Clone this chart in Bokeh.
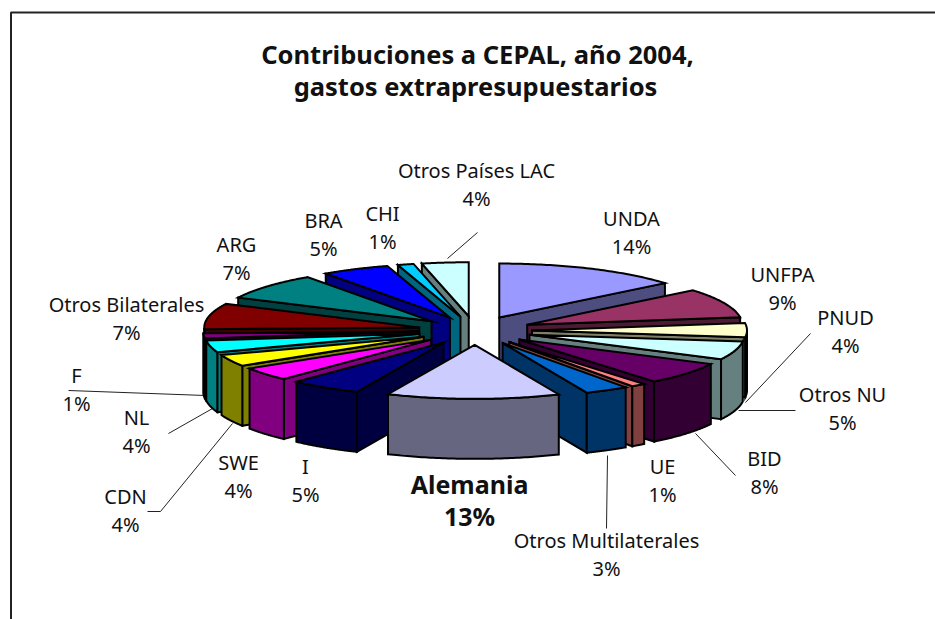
import numpy as np
from bokeh.plotting import figure
from bokeh.models import Range1d
from bokeh.core.properties import value
from bokeh.embed import file_html
from bokeh.resources import INLINE

# ---- data ----
names = ["UNDA","UNFPA","PNUD","Otros NU","BID","UE","Otros Multilaterales","Alemania","I","SWE",
         "CDN","NL","F","Otros Bilaterales","ARG","BRA","CHI","Otros Países LAC"]
pct_labels = ["14%","9%","4%","5%","8%","1%","3%","13%","5%","4%","4%","4%","1%","7%","7%","5%","1%","4%"]
shares = [14.0,8.8,4.2,5.5,6.7,1.1,3.3,13.0,5.4,4.0,3.5,3.5,1.5,7.7,8.0,5.1,1.2,3.5]
top_colors = ["#9999FF","#993366","#FFFFCC","#CCFFFF","#660066","#FF8080","#0066CC","#CCCCFF","#000080",
              "#FF00FF","#FFFF00","#00FFFF","#800080","#800000","#008080","#0000FF","#00CCFF","#CCFFFF"]
side_colors = ["#4D4D80","#4D1A33","#808066","#668080","#330033","#804040","#003366","#666680","#000040",
               "#800080","#808000","#008080","#400040","#400000","#004040","#000080","#006680","#668080"]
title_lines = ["Contribuciones a CEPAL, año 2004,","gastos extrapresupuestarios"]

# ---- layout ----
W, H = 935, 619
CX, CY = 474.5, 330
RX, RY = 215, 54
EXPL = 57
DEPTH = 60
FONT = "Noto Sans"
label_x = [631,782,845,842,764,662,606,469,305,238,125,136,76,126,236,323,382,476]
label_y = [219,275,318,395,459,467,541,484,467,463,497,418,376,305,245,221,214,171]
leaders = [((810,333),(745,402)),((795,410),(738,410)),((735,475),(695,433)),
           ((606,528),(607,455)),((68,390),(205,395)),((168,433),(212,408)),
           ((147,511),(160,511)),((160,511),(232,423)),((447,258),(477,232))]

p = figure(width=W, height=H, output_backend="svg", toolbar_location=None,
           x_range=Range1d(0, W), y_range=Range1d(H, 0), min_border=0)
p.axis.visible = False
p.grid.visible = False
p.outline_line_color = None

# chart frame: only top and left edges fall inside the picture
p.line([W, 10.5, 10.5], [12, 12, H], line_color="#222222", line_width=2)

# leader lines
for a, b in leaders:
    p.line([a[0], b[0]], [a[1], b[1]], line_color="#222222", line_width=1)

total = sum(shares)
edges = np.concatenate([[0], np.cumsum(shares)]) / total * 2*np.pi
mids = (edges[:-1] + edges[1:]) / 2
order = np.argsort(-np.cos(mids))

xs, ys, fills = [], [], []
for i in order:
    a0, a1 = edges[i], edges[i+1]
    ax = CX + EXPL*np.sin(mids[i])
    ay = CY - EXPL*RY/RX*np.cos(mids[i])
    th = np.linspace(a0, a1, 60)
    arcx = ax + RX*np.sin(th)
    arcy = ay - RY*np.cos(th)
    # radial walls that face the viewer
    if np.sin(a0) < 0:
        xs.append([ax, arcx[0], arcx[0], ax]); ys.append([ay, arcy[0], arcy[0]+DEPTH, ay+DEPTH]); fills.append(side_colors[i])
    if np.sin(a1) > 0:
        xs.append([ax, arcx[-1], arcx[-1], ax]); ys.append([ay, arcy[-1], arcy[-1]+DEPTH, ay+DEPTH]); fills.append(side_colors[i])
    # outer wall, front half only
    m = np.cos(th) < 0
    if m.sum() > 1:
        fx, fy = arcx[m], arcy[m]
        xs.append(list(fx)+list(fx[::-1])); ys.append(list(fy)+list((fy+DEPTH)[::-1])); fills.append(side_colors[i])
    # top
    xs.append([ax]+list(arcx)); ys.append([ay]+list(arcy)); fills.append(top_colors[i])

p.patches(xs, ys, fill_color=fills, line_color="black", line_width=2, line_join="miter")

# texts
def txt(x, y, s, size, bold=False):
    p.text([x], [y], text=[s], text_font=value(FONT), text_font_size=size, text_align="center",
           text_baseline="middle", text_color="#111111", text_font_style="bold" if bold else "normal")

txt(477, 53, title_lines[0], "25.5px", True)
txt(475, 85, title_lines[1], "25.5px", True)
for i, n in enumerate(names):
    if n == "Alemania":
        txt(label_x[i], label_y[i]-1, n, "25px", True)
        txt(label_x[i], label_y[i]+31, pct_labels[i], "25px", True)
    else:
        txt(label_x[i], label_y[i]-1, n, "20px")
        txt(label_x[i], label_y[i]+27, pct_labels[i], "20px")

open("out.html", "w").write(file_html(p, INLINE))
